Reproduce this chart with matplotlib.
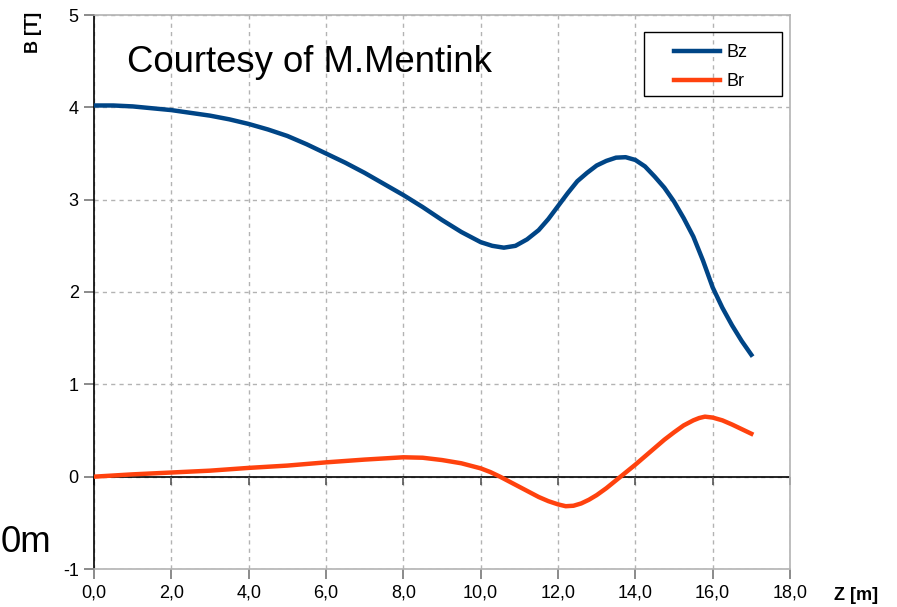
import matplotlib
matplotlib.use("Agg")
import matplotlib.pyplot as plt
from matplotlib.patches import Rectangle

plt.rcParams['font.family'] = ['Liberation Sans', 'DejaVu Sans']

# Bz
z_bz = [0.0, 0.5, 1.0, 1.5, 2.0, 2.5, 3.0, 3.5, 4.0, 4.5, 5.0, 5.5, 6.0, 6.5, 7.0, 7.5,
        8.0, 8.5, 9.0, 9.5, 10.0, 10.3, 10.6, 10.9, 11.2, 11.5, 11.75, 12.0, 12.25, 12.5,
        12.75, 13.0, 13.25, 13.5, 13.75, 14.0, 14.25, 14.5, 14.75, 15.0, 15.25, 15.5,
        15.75, 16.0, 16.25, 16.5, 16.75, 17.0]
bz = [4.02, 4.02, 4.01, 3.99, 3.97, 3.94, 3.91, 3.87, 3.82, 3.76, 3.69, 3.60, 3.50, 3.40,
      3.29, 3.17, 3.05, 2.92, 2.78, 2.65, 2.54, 2.50, 2.48, 2.50, 2.57, 2.67, 2.79, 2.93,
      3.07, 3.20, 3.29, 3.37, 3.42, 3.455, 3.46, 3.43, 3.36, 3.25, 3.13, 2.98, 2.80, 2.60,
      2.34, 2.05, 1.83, 1.64, 1.47, 1.32]

# Br
z_br = [0.0, 1.0, 2.0, 3.0, 4.0, 5.0, 6.0, 7.0, 8.0, 8.5, 9.0, 9.5, 10.0, 10.25, 10.5,
        10.75, 11.0, 11.25, 11.5, 11.75, 12.0, 12.2, 12.4, 12.6, 12.8, 13.0, 13.25, 13.5,
        13.75, 14.0, 14.25, 14.5, 14.75, 15.0, 15.25, 15.5, 15.65, 15.8, 16.0, 16.25,
        16.5, 16.75, 17.0]
br = [0.00, 0.025, 0.045, 0.065, 0.095, 0.12, 0.155, 0.185, 0.21, 0.205, 0.18, 0.145,
      0.09, 0.05, 0.00, -0.055, -0.11, -0.165, -0.22, -0.265, -0.30, -0.32, -0.315,
      -0.29, -0.25, -0.20, -0.125, -0.04, 0.045, 0.13, 0.22, 0.31, 0.40, 0.48, 0.555,
      0.61, 0.635, 0.65, 0.64, 0.61, 0.565, 0.515, 0.465]

xticks = [0, 2, 4, 6, 8, 10, 12, 14, 16, 18]
xlabels = ['0,0', '2,0', '4,0', '6,0', '8,0', '10,0', '12,0', '14,0', '16,0', '18,0']
yticks = [-1, 0, 1, 2, 3, 4, 5]
ylabels = ['-1', '0', '1', '2', '3', '4', '5']

W, H = 897, 607
fig = plt.figure(figsize=(W / 100, H / 100), dpi=100)
ax = fig.add_axes([94 / W, 1 - 569 / H, (790 - 94) / W, (569 - 15) / H])
ax.set_axisbelow(True)

ax.plot(z_bz, bz, color='#004586', lw=3.2, label='Bz', zorder=3)
ax.plot(z_br, br, color='#ff420e', lw=3.2, label='Br', zorder=3)

ax.set_xlim(0, 18)
ax.set_ylim(-1, 5)
ax.set_xticks(xticks)
ax.set_xticklabels(xlabels)
ax.set_yticks(yticks)
ax.set_yticklabels(ylabels)
ax.tick_params(axis='both', labelsize=13, color='#777777', length=7, width=1.2, pad=4)

ax.grid(True, color='#b3b3b3', ls=(0, (3, 3)), lw=1)
for s in ['top', 'right', 'bottom']:
    ax.spines[s].set_color('#b3b3b3')
    ax.spines[s].set_linewidth(1.2)
ax.spines['left'].set_color('black')
ax.spines['left'].set_linewidth(1.2)

# zero line with its own tick marks
ax.axhline(0, color='black', lw=1.2, zorder=2)
ax.vlines(xticks, -0.085, 0, colors='#555555', lw=1.2, zorder=2, clip_on=False)

# legend without its own frame, framed by a rectangle like the original
leg = ax.legend(loc='upper left', bbox_to_anchor=(674 / W, 1 - 44 / H),
                bbox_transform=fig.transFigure, fontsize=13, frameon=False,
                borderpad=0, borderaxespad=0, handlelength=2.55,
                handletextpad=0.33, labelspacing=0.68)
fig.patches.append(Rectangle((644 / W, 1 - 96 / H), (782 - 644) / W, (96 - 32) / H,
                             transform=fig.transFigure, fill=False,
                             edgecolor='black', lw=1.0, zorder=5))

fig.text(33 / W, 1 - 32 / H, 'B [T]', rotation=90, fontsize=13, fontweight='bold',
         ha='center', va='center')
fig.text(856 / W, 1 - 595 / H, 'Z [m]', fontsize=13, fontweight='bold',
         ha='center', va='center')
fig.text(127 / W, 1 - 72 / H, 'Courtesy of M.Mentink', fontsize=26.3, ha='left',
         va='baseline')
fig.text(1 / W, 1 - 552 / H, '0m', fontsize=26.3, ha='left', va='baseline')

fig.savefig('out.png', dpi=100)
